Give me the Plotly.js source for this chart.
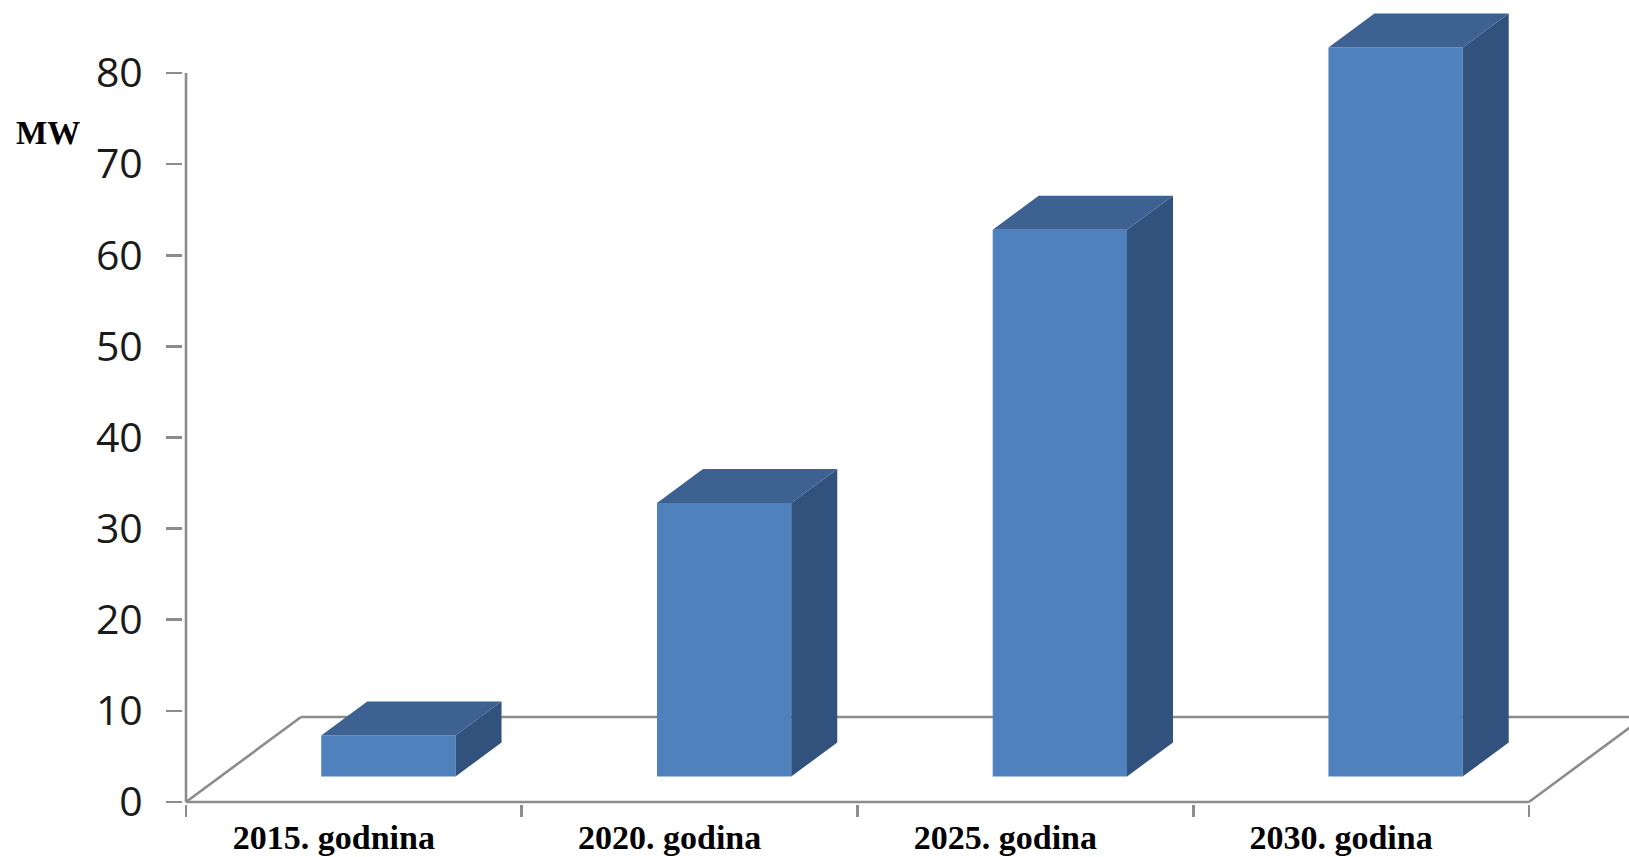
<!DOCTYPE html>
<html><head><meta charset="utf-8">
<script src="https://cdn.plot.ly/plotly-3.0.1.min.js"></script>
<style>html,body{margin:0;padding:0;background:#fff}#chart{width:1629px;height:857px}</style>
</head><body><div id="chart"></div>
<script>
// ---- data ----
const categories = ['2015. godnina', '2020. godina', '2025. godina', '2030. godina'];
const values = [4.5, 30, 60, 80];
const yTickVals = [0, 10, 20, 30, 40, 50, 60, 70, 80];
const yAxisTitle = 'MW';

// ---- 3D look (style) ----
const DX = 0.3425, DY = 9.33;      // depth projection in category / value units
const HALF = 0.2, D0 = 0.3, D1 = 0.7; // bar half width and depth span
const frontC = '#4F81BD', topC = '#3D6291', sideC = '#31527D';
const lineC = '#8C8C8C';

const pos = categories.map((c, i) => i);
const xL = -0.5, xR = categories.length - 0.5;
const yMax = yTickVals[yTickVals.length - 1];
const bounds = [];
for (let i = 0; i <= categories.length; i++) bounds.push(i - 0.5);

// floor outline + value axis line, drawn beneath the bars
const seg = (x0, y0, x1, y1) => ({type: 'line', xref: 'x', yref: 'y', layer: 'below',
  x0: x0, y0: y0, x1: x1, y1: y1, line: {color: lineC, width: 2.6}});
const shapes = [
  seg(xL, 0, xL, yMax),
  seg(xL, 0, xR, 0),
  seg(xL, 0, xL + DX, DY),
  seg(xL + DX, DY, xR + DX, DY),
  seg(xR, 0, xR + DX, DY)
];

const traces = [];
// front faces
traces.push({
  type: 'bar', x: pos, y: values, base: D0 * DY,
  width: 2 * HALF, offset: -HALF + D0 * DX,
  marker: {color: frontC, line: {width: 0}}
});
// side and top faces
const sx = [], sy = [], tx = [], ty = [];
values.forEach((v, i) => {
  const a = i + HALF + D0 * DX, b = i + HALF + D1 * DX;
  sx.push(a, b, b, a, a, null);
  sy.push(D0 * DY, D1 * DY, v + D1 * DY, v + D0 * DY, D0 * DY, null);
  const l0 = i - HALF + D0 * DX, r0 = i + HALF + D0 * DX;
  const l1 = i - HALF + D1 * DX, r1 = i + HALF + D1 * DX;
  tx.push(l0, r0, r1, l1, l0, null);
  ty.push(v + D0 * DY, v + D0 * DY, v + D1 * DY, v + D1 * DY, v + D0 * DY, null);
});
traces.push({type: 'scatter', mode: 'lines', fill: 'toself', fillcolor: sideC,
  x: sx, y: sy, line: {width: 0, color: sideC}, hoverinfo: 'skip'});
traces.push({type: 'scatter', mode: 'lines', fill: 'toself', fillcolor: topC,
  x: tx, y: ty, line: {width: 0, color: topC}, hoverinfo: 'skip'});

const layout = {
  width: 1629, height: 857,
  margin: {l: 183, r: 0, t: 0, b: 53},
  paper_bgcolor: '#fff', plot_bgcolor: '#fff',
  showlegend: false, hovermode: false,
  shapes: shapes,
  xaxis: {
    range: [-0.509, 3.798], showgrid: false, zeroline: false, showline: false,
    tickmode: 'array', tickvals: pos, ticktext: categories, ticks: '',
    ticklabelshift: -20, ticklabelstandoff: 10,
    tickfont: {family: 'Liberation Serif', size: 34, color: '#000', weight: 'bold'},
    minor: {tickmode: 'array', tickvals: bounds, ticks: 'outside', ticklen: 12,
            tickwidth: 2.6, tickcolor: lineC, showgrid: false}
  },
  yaxis: {
    range: [-0.22, 88.01], showgrid: false, zeroline: false, showline: false,
    tickmode: 'array', tickvals: yTickVals, ticks: 'outside', ticklen: 16,
    tickwidth: 2.6, tickcolor: lineC, ticklabelstandoff: 15,
    tickfont: {family: 'Open Sans', size: 41, color: '#1a1a1a'}
  },
  annotations: [{
    text: '<b>' + yAxisTitle + '</b>', xref: 'paper', yref: 'paper',
    x: (48 - 183) / 1446, y: (804 - 133) / 804, xanchor: 'center', yanchor: 'middle',
    showarrow: false, font: {family: 'Liberation Serif', size: 33, color: '#000'}
  }]
};

Plotly.newPlot('chart', traces, layout, {staticPlot: true, displayModeBar: false});
</script>
</body></html>
